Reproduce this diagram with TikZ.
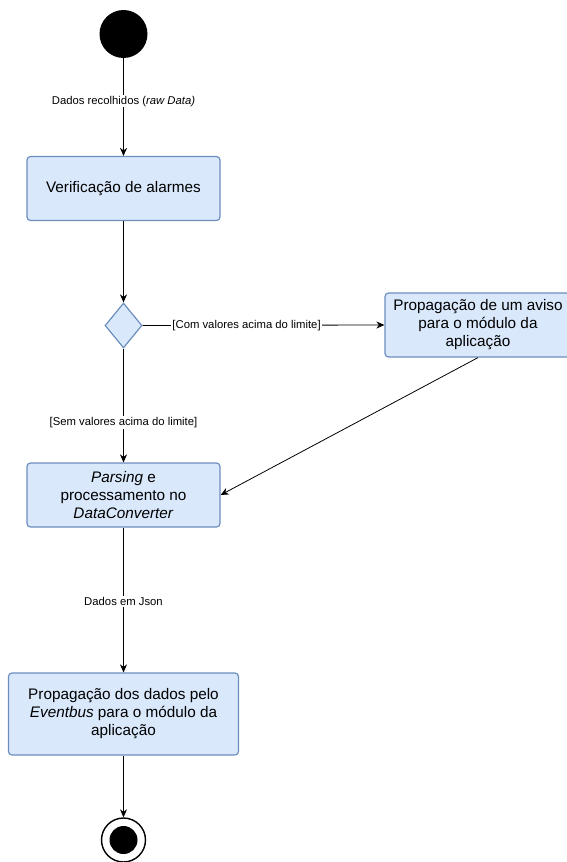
\documentclass[tikz,border=0pt]{standalone}
\usepackage{fontspec}
\setmainfont{Liberation Sans}
\usetikzlibrary{arrows.meta,shapes.geometric}
\definecolor{actfill}{HTML}{DAE8FC}
\definecolor{actline}{HTML}{6C8EBF}
\begin{document}
\begin{tikzpicture}[x=1pt,y=-1pt,
  activity/.style={draw=actline,fill=actfill,line width=1.2pt,rounded corners=3.5pt,
    minimum width=193pt,minimum height=64pt,align=center,inner sep=0pt,
    font=\fontsize{15.3}{18}\selectfont},
  decision/.style={diamond,draw=actline,fill=actfill,line width=1.2pt,
    minimum width=37pt,minimum height=45pt,inner sep=0pt},
  flow/.style={draw=black,line width=0.8pt,-{Stealth[length=8pt,width=7pt,inset=2.5pt]}},
  guard/.style={fill=white,inner sep=1pt,font=\fontsize{11.3}{13}\selectfont}]
\useasboundingbox (0,0) rectangle (566,862);

% initial and final states
\node[circle,fill=black,minimum size=48pt,inner sep=0pt] (start) at (123.5,34) {};
\node[circle,draw=black,line width=1.4pt,fill=white,minimum size=44pt,inner sep=0pt] (stop) at (123.5,840) {};
\node[circle,fill=black,minimum size=28pt,inner sep=0pt] (stopdot) at (123.5,840) {};

% activities
\node[activity] (check) at (123.5,188.5) {Verificação de alarmes};
\node[decision] (choice) at (123.5,325.5) {};
\node[activity,minimum width=186pt] (warn) at (478,325)
  {Propagação de um aviso\\para o módulo da\\aplicação};
\node[activity] (parse) at (123.5,495)
  {\textit{Parsing} e\\processamento no\\\textit{DataConverter}};
\node[activity,minimum width=230pt,minimum height=82pt] (bus) at (123.5,714)
  {Propagação dos dados pelo\\\textit{Eventbus} para o módulo da\\aplicação};

% control flow
\draw[flow] (start) -- (check)
  node[guard,pos=0.44] {Dados recolhidos (\textit{raw Data)}};
\draw[flow] (check) -- (choice);
\draw[flow] (choice.east) -- (warn.west)
  node[guard,pos=0.43] {[Com valores acima do limite]};
\draw[flow] (choice.south) -- (parse.north)
  node[guard,pos=0.65] {[Sem valores acima do limite]};
\draw[flow] (warn.south) -- (parse.east);
\draw[flow] (parse) -- (bus)
  node[guard,pos=0.51] {Dados em Json};
\draw[flow] (bus) -- (stop);
\end{tikzpicture}
\end{document}
